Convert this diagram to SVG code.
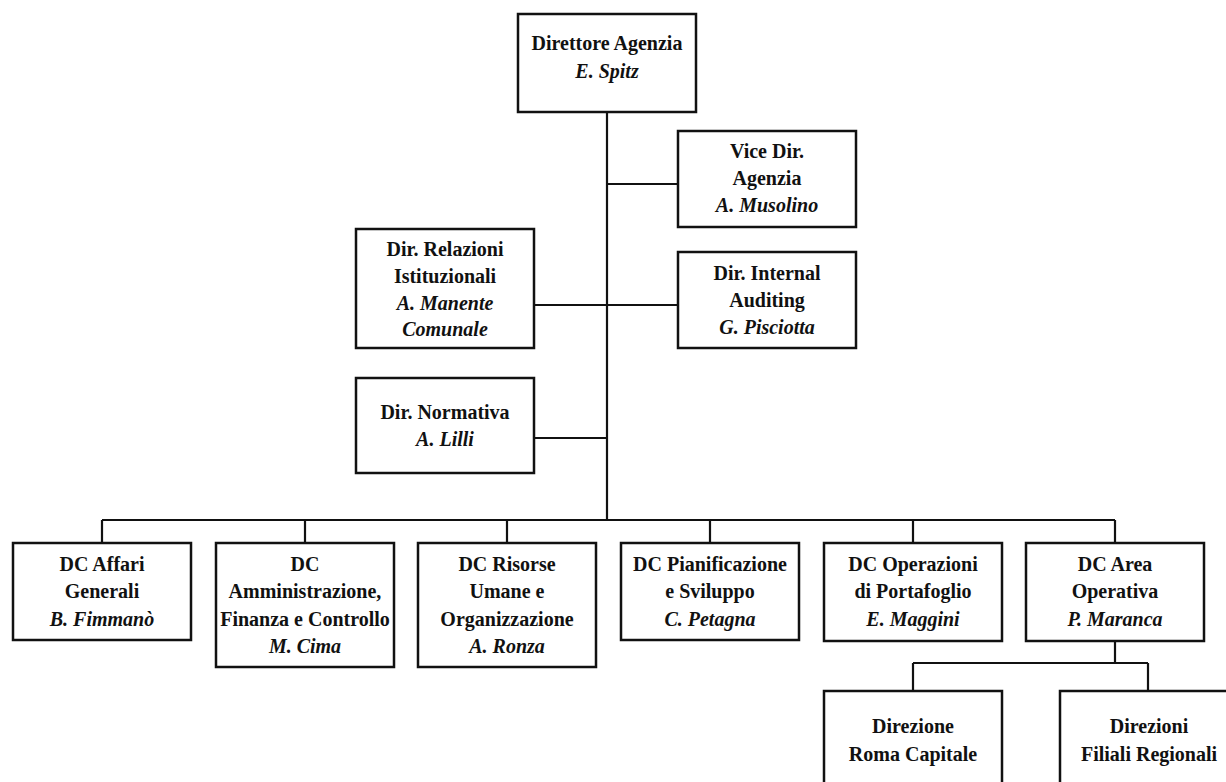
<svg xmlns="http://www.w3.org/2000/svg" width="1226" height="782" viewBox="0 0 1226 782">
<style>
  .box { fill: #ffffff; stroke: #111111; stroke-width: 2.5; }
  .conn { fill: none; stroke: #111111; stroke-width: 2.2; }
  text { font-family: "Liberation Serif", "Times New Roman", serif; font-size: 20px; font-weight: bold; fill: #111111; text-anchor: middle; }
  .name { font-style: italic; }
</style>
<rect x="0" y="0" width="1226" height="782" fill="#ffffff"/>
<g id="connectors">
  <path class="conn" d="M607 112 V520"/>
  <path class="conn" d="M607 184 H678"/>
  <path class="conn" d="M534 305 H678"/>
  <path class="conn" d="M534 438 H607"/>
  <path class="conn" d="M102 520 H1115"/>
  <path class="conn" d="M102 520 V543 M305 520 V543 M507 520 V543 M710 520 V543 M913 520 V543 M1115 520 V543"/>
  <path class="conn" d="M1115 641 V663 M913 663 H1148 M913 663 V691 M1148 663 V691"/>
</g>
<g id="direttore">
  <rect class="box" x="518" y="14" width="178" height="98"/>
  <text x="607" y="50">Direttore Agenzia</text>
  <text class="name" x="607" y="78">E. Spitz</text>
</g>
<g id="vice-dir">
  <rect class="box" x="678" y="131" width="178" height="96"/>
  <text x="767" y="158">Vice Dir.</text>
  <text x="767" y="185">Agenzia</text>
  <text class="name" x="767" y="212">A. Musolino</text>
</g>
<g id="relazioni">
  <rect class="box" x="356" y="229" width="178" height="119"/>
  <text x="445" y="256">Dir. Relazioni</text>
  <text x="445" y="283">Istituzionali</text>
  <text class="name" x="445" y="310">A. Manente</text>
  <text class="name" x="445" y="336">Comunale</text>
</g>
<g id="internal-auditing">
  <rect class="box" x="678" y="252" width="178" height="96"/>
  <text x="767" y="280">Dir. Internal</text>
  <text x="767" y="307">Auditing</text>
  <text class="name" x="767" y="334">G. Pisciotta</text>
</g>
<g id="normativa">
  <rect class="box" x="356" y="378" width="178" height="95"/>
  <text x="445" y="419">Dir. Normativa</text>
  <text class="name" x="445" y="446">A. Lilli</text>
</g>
<g id="affari-generali">
  <rect class="box" x="13" y="543" width="178" height="97"/>
  <text x="102" y="571">DC Affari</text>
  <text x="102" y="598">Generali</text>
  <text class="name" x="102" y="626">B. Fimmanò</text>
</g>
<g id="amministrazione">
  <rect class="box" x="216" y="543" width="178" height="124"/>
  <text x="305" y="571">DC</text>
  <text x="305" y="598">Amministrazione,</text>
  <text x="305" y="626">Finanza e Controllo</text>
  <text class="name" x="305" y="653">M. Cima</text>
</g>
<g id="risorse-umane">
  <rect class="box" x="418" y="543" width="178" height="124"/>
  <text x="507" y="571">DC Risorse</text>
  <text x="507" y="598">Umane e</text>
  <text x="507" y="626">Organizzazione</text>
  <text class="name" x="507" y="653">A. Ronza</text>
</g>
<g id="pianificazione">
  <rect class="box" x="621" y="543" width="178" height="97"/>
  <text x="710" y="571">DC Pianificazione</text>
  <text x="710" y="598">e Sviluppo</text>
  <text class="name" x="710" y="626">C. Petagna</text>
</g>
<g id="operazioni-portafoglio">
  <rect class="box" x="824" y="543" width="178" height="98"/>
  <text x="913" y="571">DC Operazioni</text>
  <text x="913" y="598">di Portafoglio</text>
  <text class="name" x="913" y="626">E. Maggini</text>
</g>
<g id="area-operativa">
  <rect class="box" x="1026" y="543" width="178" height="98"/>
  <text x="1115" y="571">DC Area</text>
  <text x="1115" y="598">Operativa</text>
  <text class="name" x="1115" y="626">P. Maranca</text>
</g>
<g id="roma-capitale">
  <rect class="box" x="824" y="691" width="178" height="120"/>
  <text x="913" y="733">Direzione</text>
  <text x="913" y="761">Roma Capitale</text>
</g>
<g id="filiali-regionali">
  <rect class="box" x="1060" y="691" width="178" height="120"/>
  <text x="1149" y="733">Direzioni</text>
  <text x="1149" y="761">Filiali Regionali</text>
</g>
</svg>
